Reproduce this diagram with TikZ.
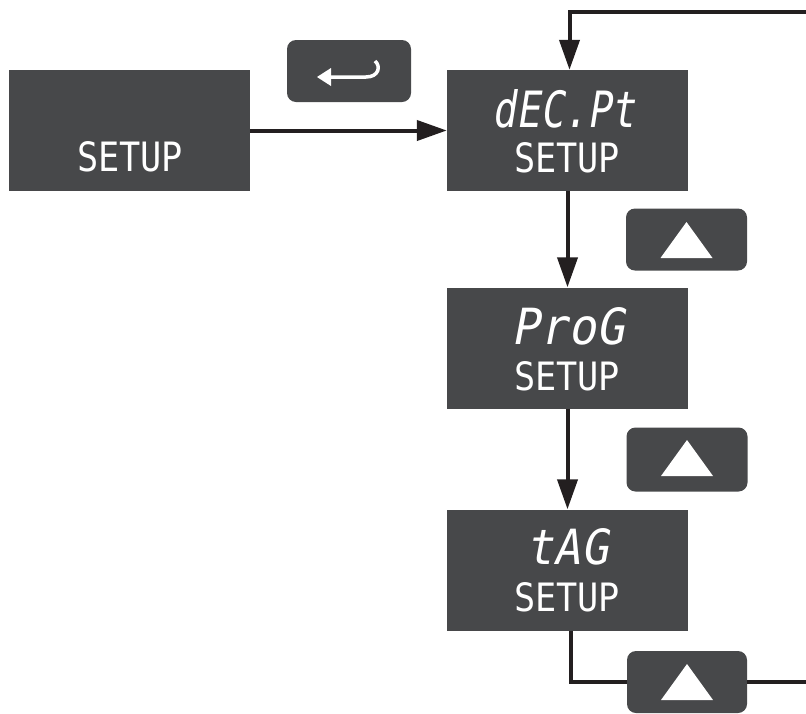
\documentclass[tikz,border=0pt]{standalone}
\usepackage{fontspec}
\usetikzlibrary{arrows.meta,calc}
\newfontfamily\segfont{DejaVu Sans Mono}
\newfontfamily\segslant[FakeSlant=0.2]{DejaVu Sans Mono}
\definecolor{panel}{HTML}{47484A}
\definecolor{wire}{HTML}{231F20}
\newcommand{\segtxt}[3]{\resizebox{#1pt}{#2pt}{#3}}
\begin{document}
\begin{tikzpicture}[x=1pt,y=-1pt,
  display/.style={fill=panel, draw=none, minimum width=241pt, minimum height=121pt, inner sep=0pt},
  keypad/.style={fill=panel, draw=none, rounded corners=9pt, minimum width=121pt, minimum height=62pt, inner sep=0pt},
  lcd/.style={text=white, inner sep=0pt, outer sep=0pt},
  wirel/.style={draw=wire, line width=4pt},
  arr/.style={wirel, -{Triangle[length=30pt,width=20pt]}}]
\useasboundingbox (0,0) rectangle (806,713);
% displays
\node[display] (b0) at (129.5,130.5) {};
\node[display] (b1) at (567.5,130.5) {};
\node[display] (b2) at (567.5,348) {};
\node[display] (b3) at (567.5,570) {};
% keys
\node[keypad, minimum width=124pt] (en) at (349,71) {};
\node[keypad] (up1) at (686.5,239.5) {};
\node[keypad, minimum height=64pt] (up2) at (687,459.5) {};
\node[keypad, minimum width=120pt] (up3) at (687,682) {};
% texts
\node[lcd] (t0) at (130,157) {\segtxt{106}{30}{\segfont SETUP}};
\node[lcd] (t1a) at (564,109) {\segtxt{142}{38}{\segslant dEC.Pt}};
\node[lcd] (t1b) at (567,157.5) {\segtxt{106}{30}{\segfont SETUP}};
\node[lcd] (t2a) at (568,326.5) {\segtxt{112}{37}{\segslant ProG}};
\node[lcd] (t2b) at (567,376) {\segtxt{106}{29}{\segfont SETUP}};
\node[lcd] (t3a) at (567.5,547) {\segtxt{81}{36}{\segslant tAG}};
\node[lcd] (t3b) at (567,597.5) {\segtxt{106}{29}{\segfont SETUP}};
% key icons
\fill[white] ($(up1.center)+(0,-17.5)$) -- ($(up1.center)+(26,18.5)$) -- ($(up1.center)+(-26,18.5)$) -- cycle;
\fill[white] ($(up2.center)+(0,-19.5)$) -- ($(up2.center)+(26,16.5)$) -- ($(up2.center)+(-26,16.5)$) -- cycle;
\fill[white] ($(up3.center)+(0,-18)$) -- ($(up3.center)+(26,18)$) -- ($(up3.center)+(-26,18)$) -- cycle;
\draw[white, line width=3.5pt] ($(en.center)+(26,-10)$) .. controls ($(en.center)+(32,-5)$) and ($(en.center)+(30,6)$) .. ($(en.center)+(17,6)$) -- ($(en.center)+(-20,6)$);
\fill[white] ($(en.center)+(-32,6)$) -- ($(en.center)+(-18,-3)$) -- ($(en.center)+(-18,15)$) -- cycle;
% connectors
\coordinate (e1) at (806,682);
\coordinate (e2) at (806,12);
\draw[arr] (b0) -- (b1);
\draw[arr] (b1) -- (b2);
\draw[arr] (b2) -- (b3);
\draw[wirel] ([xshift=3pt]b3.south) |- (up3.west);
\draw[wirel] (up3.east) -- (e1);
\draw[arr] (e2) -| ([xshift=2pt]b1.north);
\end{tikzpicture}
\end{document}
